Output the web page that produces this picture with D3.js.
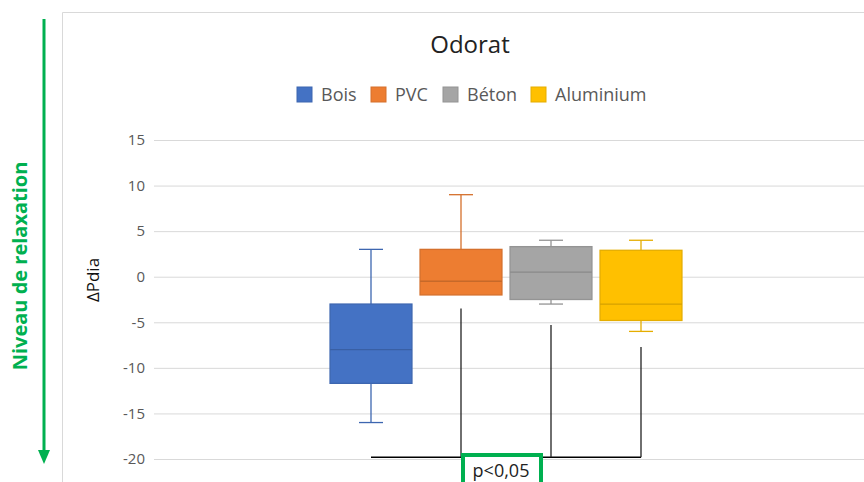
<!DOCTYPE html>
<html>
<head>
<meta charset="utf-8">
<script src="https://cdn.jsdelivr.net/npm/d3@7"></script>
<style>
  body { margin: 0; background: #fff; }
  svg { display: block; }
</style>
</head>
<body>
<script>
// data
var series = ["Bois", "PVC", "Béton", "Aluminium"];
var colors = ["#4472C4", "#ED7D31", "#A5A5A5", "#FFC000"];
var mins    = [-16, -2, -3, -6];
var q1s     = [-11.7, -2, -2.5, -4.8];
var medians = [-8, -0.5, 0.5, -3];
var q3s     = [-3, 3, 3.3, 2.9];
var maxs    = [3, 9, 4, 4];
var yTicks  = [15, 10, 5, 0, -5, -10, -15, -20];

// significance bracket (annotation), start of each vertical line
var bracketFrom = ["PVC", "Béton", "Aluminium"];
var bracketTop  = [-3.5, -5.3, -7.7];
var bracketY = -19.8;

var W = 864, H = 482;
var plot = { left: 154, right: 858, top: 140, bottom: 459 };

var svg = d3.select("body").append("svg")
    .attr("width", W).attr("height", H);

// chart frame
svg.append("path")
    .attr("d", "M62.5," + H + "V12.5H" + W)
    .attr("fill", "none")
    .attr("stroke", "#d9d9d9")
    .attr("stroke-width", 1);

var y = d3.scaleLinear().domain([-20, 15]).range([plot.bottom, plot.top]);
var cx = (plot.left + plot.right) / 2;
var x = d3.scaleBand().domain(series)
    .range([cx - 180, cx + 180])
    .paddingInner(0.09).paddingOuter(0.045);

// gridlines + tick labels
var yAxis = d3.axisLeft(y).tickValues(yTicks)
    .tickSize(-(W - plot.left)).tickPadding(9)
    .tickFormat(function (d) { return String(d); });
var gy = svg.append("g")
    .attr("transform", "translate(" + plot.left + ",0)")
    .call(yAxis);
gy.select(".domain").remove();
gy.selectAll(".tick line").attr("stroke", "#d9d9d9");
gy.selectAll(".tick text")
    .attr("fill", "#595959")
    .attr("font-family", "Open Sans, sans-serif")
    .attr("font-size", "15px");

// boxes
var data = series.map(function (s, i) {
    return { name: s, color: colors[i], min: mins[i], q1: q1s[i], med: medians[i], q3: q3s[i], max: maxs[i] };
});
var bw = x.bandwidth();
var g = svg.selectAll("g.box").data(data).enter().append("g").attr("class", "box");

g.append("line") // upper whisker
    .attr("x1", function (d) { return x(d.name) + bw / 2; })
    .attr("x2", function (d) { return x(d.name) + bw / 2; })
    .attr("y1", function (d) { return y(d.q3); })
    .attr("y2", function (d) { return y(d.max); })
    .attr("stroke", function (d) { return d3.color(d.color).darker(0.3); })
    .attr("stroke-width", 1.3);
g.append("line") // lower whisker
    .attr("x1", function (d) { return x(d.name) + bw / 2; })
    .attr("x2", function (d) { return x(d.name) + bw / 2; })
    .attr("y1", function (d) { return y(d.q1); })
    .attr("y2", function (d) { return y(d.min); })
    .attr("stroke", function (d) { return d3.color(d.color).darker(0.3); })
    .attr("stroke-width", 1.3);
["max", "min"].forEach(function (k) {
    g.filter(function (d) { return k == "max" ? d.max > d.q3 : d.min < d.q1; })
        .append("line")
        .attr("x1", function (d) { return x(d.name) + bw / 2 - 12; })
        .attr("x2", function (d) { return x(d.name) + bw / 2 + 12; })
        .attr("y1", function (d) { return y(d[k]); })
        .attr("y2", function (d) { return y(d[k]); })
        .attr("stroke", function (d) { return d3.color(d.color).darker(0.3); })
        .attr("stroke-width", 1.3);
});
g.append("rect")
    .attr("x", function (d) { return x(d.name); })
    .attr("y", function (d) { return y(d.q3); })
    .attr("width", bw)
    .attr("height", function (d) { return y(d.q1) - y(d.q3); })
    .attr("fill", function (d) { return d.color; })
    .attr("stroke", function (d) { return d3.color(d.color).darker(0.3); })
    .attr("stroke-width", 1.3);
g.append("line") // median
    .attr("x1", function (d) { return x(d.name); })
    .attr("x2", function (d) { return x(d.name) + bw; })
    .attr("y1", function (d) { return y(d.med); })
    .attr("y2", function (d) { return y(d.med); })
    .attr("stroke", function (d) { return d3.color(d.color).darker(0.5); })
    .attr("stroke-width", 1.3);

// significance bracket
var bx0 = x("Bois") + bw / 2, bx1 = x("Aluminium") + bw / 2;
svg.append("line")
    .attr("x1", bx0).attr("x2", bx1)
    .attr("y1", y(bracketY)).attr("y2", y(bracketY))
    .attr("stroke", "#000").attr("stroke-width", 1.5);
svg.selectAll("line.brk").data(bracketFrom).enter().append("line")
    .attr("class", "brk")
    .attr("x1", function (d) { return x(d) + bw / 2; })
    .attr("x2", function (d) { return x(d) + bw / 2; })
    .attr("y1", function (d, i) { return y(bracketTop[i]); })
    .attr("y2", y(bracketY))
    .attr("stroke", "#222").attr("stroke-width", 1.3);

// p-value box
svg.append("rect")
    .attr("x", 463).attr("y", 455)
    .attr("width", 78).attr("height", 40)
    .attr("fill", "#fff")
    .attr("stroke", "#00B050").attr("stroke-width", 4);
svg.append("text")
    .attr("x", 501).attr("y", 477)
    .attr("text-anchor", "middle")
    .attr("font-family", "Open Sans, sans-serif")
    .attr("font-size", "18px")
    .attr("fill", "#222")
    .text("p<0,05");

// title
svg.append("text")
    .attr("x", 470).attr("y", 53)
    .attr("text-anchor", "middle")
    .attr("font-family", "Open Sans, sans-serif")
    .attr("font-size", "24px")
    .attr("fill", "#222")
    .text("Odorat");

// legend
var legX = [297, 371, 443, 531];
var leg = svg.selectAll("g.leg").data(data).enter().append("g")
    .attr("class", "leg")
    .attr("transform", function (d, i) { return "translate(" + legX[i] + ",87)"; });
leg.append("rect")
    .attr("width", 15).attr("height", 15)
    .attr("fill", function (d) { return d.color; })
    .attr("stroke", function (d) { return d3.color(d.color).darker(0.3); });
leg.append("text")
    .attr("x", 24).attr("y", 14)
    .attr("font-family", "Open Sans, sans-serif")
    .attr("font-size", "18px")
    .attr("fill", "#595959")
    .text(function (d) { return d.name; });

// y axis title
svg.append("text")
    .attr("transform", "translate(99,280) rotate(-90)")
    .attr("text-anchor", "middle")
    .attr("font-family", "Open Sans, sans-serif")
    .attr("font-size", "17px")
    .attr("fill", "#111")
    .text("ΔPdia");

// green arrow + label
svg.append("line")
    .attr("x1", 44).attr("x2", 44)
    .attr("y1", 19).attr("y2", 452)
    .attr("stroke", "#00B050").attr("stroke-width", 3);
svg.append("path")
    .attr("d", "M38,450L50,450L44,464Z")
    .attr("fill", "#00B050");
svg.append("text")
    .attr("transform", "translate(27,266) rotate(-90)")
    .attr("text-anchor", "middle")
    .attr("font-family", "Open Sans, sans-serif")
    .attr("font-weight", "bold")
    .attr("font-size", "20px")
    .attr("fill", "#00B050")
    .text("Niveau de relaxation");
</script>
</body>
</html>
